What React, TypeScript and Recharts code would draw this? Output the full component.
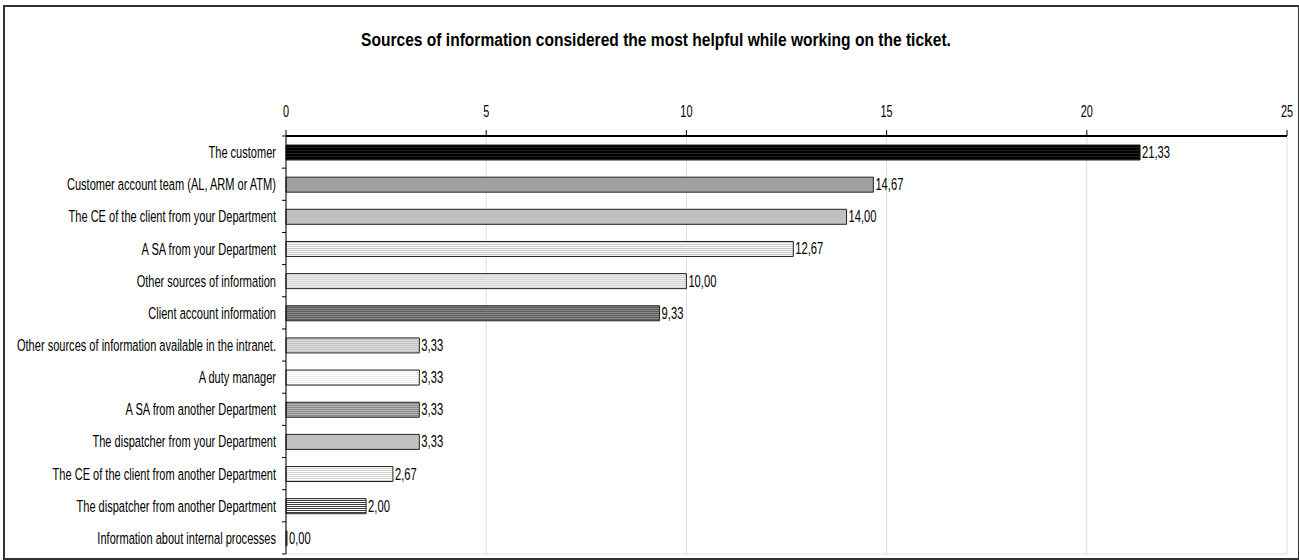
import React from 'react';
import { BarChart, Bar, XAxis, YAxis, CartesianGrid, Cell, LabelList } from 'recharts';

// categories top to bottom
const categories: string[] = [
  'The customer',
  'Customer account team (AL, ARM or ATM)',
  'The CE of the client from your Department',
  'A SA from your Department',
  'Other sources of information',
  'Client account information',
  'Other sources of information available in the intranet.',
  'A duty manager',
  'A SA from another Department',
  'The dispatcher from your Department',
  'The CE of the client from another Department',
  'The dispatcher from another Department',
  'Information about internal processes',
];

const values: number[] = [21.33, 14.67, 14.0, 12.67, 10.0, 9.33, 3.33, 3.33, 3.33, 3.33, 2.67, 2.0, 0.0];

const xTicks: number[] = [0, 5, 10, 15, 20, 25];

// bar fills (pattern ids or plain colours)
const fills: string[] = [
  'url(#p-black)',
  '#a0a0a0',
  '#c0c0c0',
  'url(#p-light1)',
  'url(#p-light2)',
  'url(#p-dark)',
  'url(#p-light3)',
  'url(#p-white)',
  'url(#p-mid)',
  '#c0c0c0',
  'url(#p-light4)',
  'url(#p-darkwhite)',
  '#ffffff',
];

const FONT = '"Liberation Sans", Arial, sans-serif';
const SX = 0.65; // text is squeezed like Arial Narrow

const data = categories.map((name, i) => ({ name, value: values[i] }));

const stripe = (id: string, bg: string, fg: string, h = 3) => (
  <pattern id={id} width={4} height={h} patternUnits="userSpaceOnUse">
    <rect width={4} height={h} fill={bg} />
    <rect width={4} height={1} fill={fg} />
  </pattern>
);

const CategoryTick = (props: any) => {
  const { y, payload, index } = props;
  const half = (554 - 136) / 13 / 2;
  return (
    <g>
      <text
        transform={`translate(276 ${y}) scale(${SX} 1)`}
        dy={6}
        textAnchor="end"
        fontSize={17}
        fill="#000"
        fontFamily={FONT}
      >
        {payload.value}
      </text>
      <line x1={282} x2={286} y1={y + half} y2={y + half} stroke="#000" />
      {index === 0 && <line x1={282} x2={286} y1={y - half} y2={y - half} stroke="#000" />}
    </g>
  );
};

const ValueTick = (props: any) => {
  const { x, payload } = props;
  return (
    <text
      transform={`translate(${x} 111) scale(0.68 1)`}
      dy={5.5}
      textAnchor="middle"
      fontSize={16}
      fill="#000"
      fontFamily={FONT}
    >
      {payload.value}
    </text>
  );
};

const ValueLabel = (props: any) => {
  const { x, y, width, height, value } = props;
  return (
    <text
      transform={`translate(${x + width + 2} ${y + height / 2}) scale(0.7 1)`}
      dy={5.5}
      textAnchor="start"
      fontSize={16}
      fill="#000"
      fontFamily={FONT}
    >
      {Number(value).toFixed(2).replace('.', ',')}
    </text>
  );
};

export default function App() {
  return (
    <div style={{ position: 'absolute', left: 0, top: 0, width: 1299, height: 560, background: '#fff' }}>
      <svg width={0} height={0} style={{ position: 'absolute' }}>
        <defs>
          {stripe('p-black', '#000000', '#202020')}
          {stripe('p-light1', '#ffffff', '#c4c4c4', 2)}
          {stripe('p-light2', '#d6d6d6', '#ececec', 2)}
          {stripe('p-dark', '#5c5c5c', '#8a8a8a', 2)}
          {stripe('p-light3', '#c4c4c4', '#dcdcdc', 2)}
          {stripe('p-white', '#ffffff', '#ececec', 2)}
          {stripe('p-mid', '#8c8c8c', '#b4b4b4', 2)}
          {stripe('p-light4', '#ffffff', '#d0d0d0', 2)}
          {stripe('p-darkwhite', '#ffffff', '#3c3c3c', 2)}
        </defs>
      </svg>
      <div
        style={{
          position: 'absolute',
          left: 3,
          top: 5,
          width: 1293,
          height: 551,
          border: '2px solid #333',
        }}
      />
      <div style={{ position: 'absolute', left: 0, top: 0 }}>
        <BarChart
          width={1299}
          height={560}
          data={data}
          layout="vertical"
          margin={{ top: 96, right: 12, bottom: 6, left: 0 }}
          barCategoryGap={0}
        >
          <text
            transform={`translate(656 46) scale(0.82 1)`}
            textAnchor="middle"
            fontSize={19}
            fontWeight="bold"
            fontFamily={FONT}
            fill="#000"
          >
            Sources of information considered the most helpful while working on the ticket.
          </text>
          <CartesianGrid stroke="#dedede" horizontalPoints={[554]} />
          <XAxis
            type="number"
            orientation="top"
            domain={[0, 25]}
            ticks={xTicks}
            height={40}
            tickSize={6}
            stroke="#000"
            tick={<ValueTick />}
            axisLine={{ stroke: '#000', strokeWidth: 2 }}
            interval={0}
          />
          <YAxis
            type="category"
            dataKey="name"
            width={286}
            tickLine={false}
            axisLine={{ stroke: '#000' }}
            tick={<CategoryTick />}
            interval={0}
          />
          <Bar
            dataKey="value"
            barSize={15}
            minPointSize={1}
            stroke="#222"
            strokeWidth={1}
            isAnimationActive={false}
          >
            {data.map((d, i) => (
              <Cell key={d.name} fill={fills[i]} />
            ))}
            <LabelList dataKey="value" content={<ValueLabel />} />
          </Bar>
        </BarChart>
      </div>
    </div>
  );
}
